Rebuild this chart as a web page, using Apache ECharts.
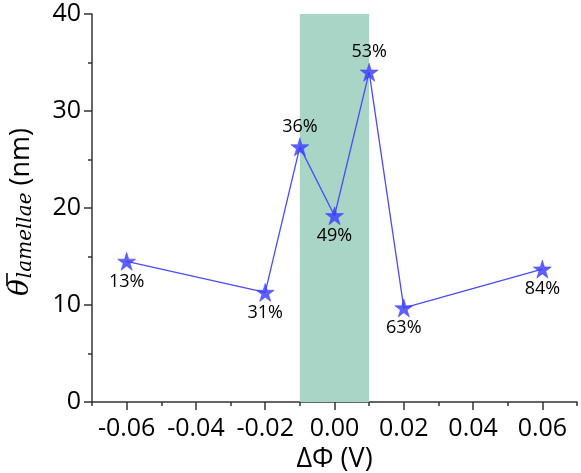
<!DOCTYPE html>
<html>
<head>
<meta charset="utf-8">
<script src="https://cdn.jsdelivr.net/npm/echarts@6/dist/echarts.min.js"></script>
<style>html,body{margin:0;padding:0;background:#fff}#c{width:581px;height:473px}</style>
</head>
<body>
<div id="c"></div>
<script>
const xValues = [-0.06, -0.02, -0.01, 0.00, 0.01, 0.02, 0.06];
const yValues = [14.5, 11.3, 26.3, 19.2, 34.0, 9.7, 13.7];
const pointLabels = ['13%', '31%', '36%', '49%', '53%', '63%', '84%'];
const labelSides = ['bottom', 'bottom', 'top', 'bottom', 'top', 'bottom', 'bottom'];
const xMajorTicks = [-0.06, -0.04, -0.02, 0.00, 0.02, 0.04, 0.06];
const xMinorTicks = [-0.07, -0.05, -0.03, -0.01, 0.01, 0.03, 0.05, 0.07];
const bandRange = [-0.01, 0.01];
const bandY = [0, 40];
const yTitleParts = ['θ', 'lamellae', ' (nm)'];
const xTitle = 'ΔΦ (V)';

const FONT = '"Open Sans", "Noto Sans", sans-serif';
const star = 'path://M50,0 L61.8,35.4 L100,35.4 L69.1,57.3 L80.9,93.3 L50,71.4 L19.1,93.3 L30.9,57.3 L0,35.4 L38.2,35.4 Z';

const mctx = document.createElement('canvas').getContext('2d');
function tw(font, t) { mctx.font = font; return mctx.measureText(t).width; }
const fTheta = 'italic 28px "DejaVu Serif"';
const fSub = 'italic 20px "DejaVu Serif"';
const fMain = '27px "Open Sans"';
const wTheta = tw(fTheta, yTitleParts[0]);
const wSub = tw(fSub, yTitleParts[1]);

const chart = echarts.init(document.getElementById('c'));
const data = xValues.map((x, i) => ({
  value: [x, yValues[i]],
  label: { show: true, formatter: pointLabels[i], position: labelSides[i] }
}));

chart.setOption({
  animation: false,
  grid: { left: 92, right: 4, top: 14, bottom: 71, containLabel: false, outerBoundsMode: 'none' },
  xAxis: [{
    type: 'value', min: -0.07, max: 0.07, position: 'bottom',
    name: xTitle, nameLocation: 'middle', nameGap: 42,
    nameTextStyle: { fontFamily: FONT, fontSize: 27, color: '#000' },
    axisLine: { onZero: false, lineStyle: { color: '#333', width: 1.5 } },
    axisTick: { customValues: xMajorTicks, length: 8, lineStyle: { color: '#333', width: 1.5 } },
    axisLabel: { customValues: xMajorTicks, formatter: v => v.toFixed(2), fontFamily: FONT, fontSize: 25, color: '#000', margin: 14 },
    splitLine: { show: false }
  }, {
    type: 'value', min: -0.07, max: 0.07, position: 'bottom',
    axisLine: { show: false, onZero: false },
    axisTick: { customValues: xMinorTicks, length: 4, lineStyle: { color: '#333', width: 1.5 } },
    axisLabel: { show: false },
    splitLine: { show: false }
  }],
  yAxis: {
    type: 'value', min: 0, max: 40, interval: 10,
    axisLine: { show: true, onZero: false, lineStyle: { color: '#333', width: 1.5 } },
    axisTick: { show: true, length: 8, lineStyle: { color: '#333', width: 1.5 } },
    minorTick: { show: true, splitNumber: 2, length: 4, lineStyle: { color: '#333', width: 1.5 } },
    axisLabel: { fontFamily: FONT, fontSize: 25, color: '#000', margin: 11 },
    splitLine: { show: false }
  },
  graphic: [{
    type: 'group', x: 21, y: 296, rotation: Math.PI / 2, silent: true,
    children: [
      { type: 'text', x: 0, y: 0, style: { text: yTitleParts[0], font: fTheta, fill: '#000', textAlign: 'left', textVerticalAlign: 'middle', verticalAlign: 'middle' } },
      { type: 'line', shape: { x1: 10, y1: -14, x2: 23, y2: -14 }, style: { stroke: '#000', lineWidth: 1.6 } },
      { type: 'text', x: wTheta + 1, y: 5, style: { text: yTitleParts[1], font: fSub, fill: '#000', textAlign: 'left', textVerticalAlign: 'middle', verticalAlign: 'middle' } },
      { type: 'text', x: wTheta + 1 + wSub, y: 0, style: { text: yTitleParts[2], font: fMain, fill: '#000', textAlign: 'left', textVerticalAlign: 'middle', verticalAlign: 'middle' } }
    ]
  }],
  series: [{
    type: 'custom',
    silent: true,
    z: 1,
    data: [[bandRange[0], bandRange[1], bandY[0], bandY[1]]],
    renderItem: function (params, api) {
      const p0 = api.coord([api.value(0), api.value(3)]);
      const p1 = api.coord([api.value(1), api.value(2)]);
      return { type: 'rect', shape: { x: p0[0], y: p0[1], width: p1[0] - p0[0], height: p1[1] - p0[1] }, style: { fill: '#a8d5c6' } };
    },
    encode: { x: [0, 1], y: [2, 3] }
  }, {
    type: 'line',
    data: data,
    symbol: star, symbolSize: 18,
    lineStyle: { color: '#4a4aff', width: 1.3 },
    itemStyle: { color: 'rgba(60,60,255,0.82)', borderColor: '#3b3bff', borderWidth: 0.5 },
    label: { fontFamily: FONT, fontSize: 18, color: '#000', distance: 2 },
    z: 3
  }]
});
</script>
</body>
</html>
